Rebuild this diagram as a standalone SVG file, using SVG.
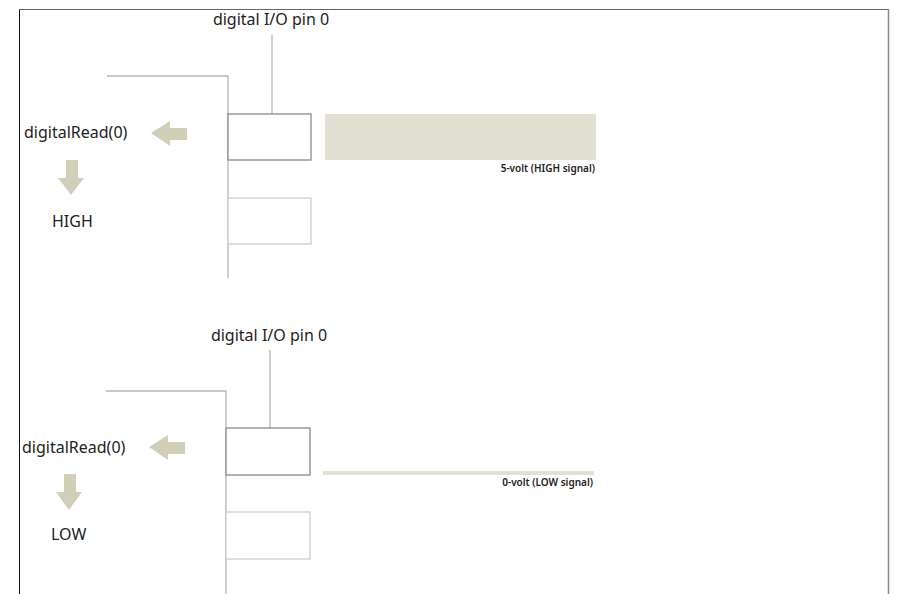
<svg xmlns="http://www.w3.org/2000/svg" width="897" height="594" viewBox="0 0 897 594">
<style>
  text { font-family: "Noto Sans", "Open Sans", sans-serif; fill: #222; }
  .lbl { font-size: 16px; }
  .sig { font-size: 10px; font-weight: 600; text-anchor: end; }
  .wire { stroke: #b8b8b0; stroke-width: 1.3; fill: none; }
  .pin1 { fill: #fff; stroke: #8a8a8a; stroke-width: 1.3; }
  .pin2 { fill: #fff; stroke: #cfcfc8; stroke-width: 1.3; }
  .arrow { fill: #d2cfb8; }
  .sigfill { fill: #e2dfd3; }
</style>
<rect width="897" height="594" fill="#fff"/>
<g id="frame">
  <line x1="19.5" y1="9" x2="19.5" y2="594" stroke="#111" stroke-width="1"/>
  <line x1="19" y1="9.5" x2="889" y2="9.5" stroke="#666" stroke-width="1"/>
  <line x1="888.5" y1="9" x2="888.5" y2="594" stroke="#888" stroke-width="1.5"/>
</g>
<g id="connectors">
  <line class="wire" x1="272" y1="35" x2="272" y2="114"/>
  <polyline class="wire" points="107,76 228,76 228,278"/>
  <line class="wire" x1="270" y1="350" x2="270" y2="428"/>
  <polyline class="wire" points="106,391 226,391 226,594"/>
</g>
<g id="top-panel">
  <text class="lbl" x="271" y="25" text-anchor="middle">digital I/O pin 0</text>
  <rect id="pin-top-1" class="pin1" x="228" y="114" width="83" height="46"/>
  <rect id="pin-top-2" class="pin2" x="228" y="198" width="83" height="46"/>
  <rect id="high-signal" class="sigfill" x="325" y="114" width="271" height="46"/>
  <text class="sig" x="595" y="172">5-volt (HIGH signal)</text>
  <polygon id="left-arrow-top" class="arrow" points="151,133 170,121 170,128 187,128 187,140 170,140 170,146"/>
  <text class="lbl" x="24" y="138">digitalRead(0)</text>
  <polygon id="down-arrow-top" class="arrow" points="66,160 78,160 78,178 84,178 71,195 58,178 66,178"/>
  <text class="lbl" x="52" y="227">HIGH</text>
</g>
<g id="bottom-panel">
  <text class="lbl" x="269" y="341" text-anchor="middle">digital I/O pin 0</text>
  <rect id="pin-bot-1" class="pin1" x="226" y="428" width="84" height="47"/>
  <rect id="pin-bot-2" class="pin2" x="226" y="512" width="84" height="47"/>
  <rect id="low-signal" class="sigfill" x="323" y="471" width="271" height="4"/>
  <text class="sig" x="593" y="486">0-volt (LOW signal)</text>
  <polygon id="left-arrow-bot" class="arrow" points="149,447 168,435 168,442 185,442 185,454 168,454 168,460"/>
  <text class="lbl" x="22" y="453">digitalRead(0)</text>
  <polygon id="down-arrow-bot" class="arrow" points="64,474 76,474 76,492 82,492 69,510 56,492 64,492"/>
  <text class="lbl" x="51" y="540">LOW</text>
</g>
</svg>
